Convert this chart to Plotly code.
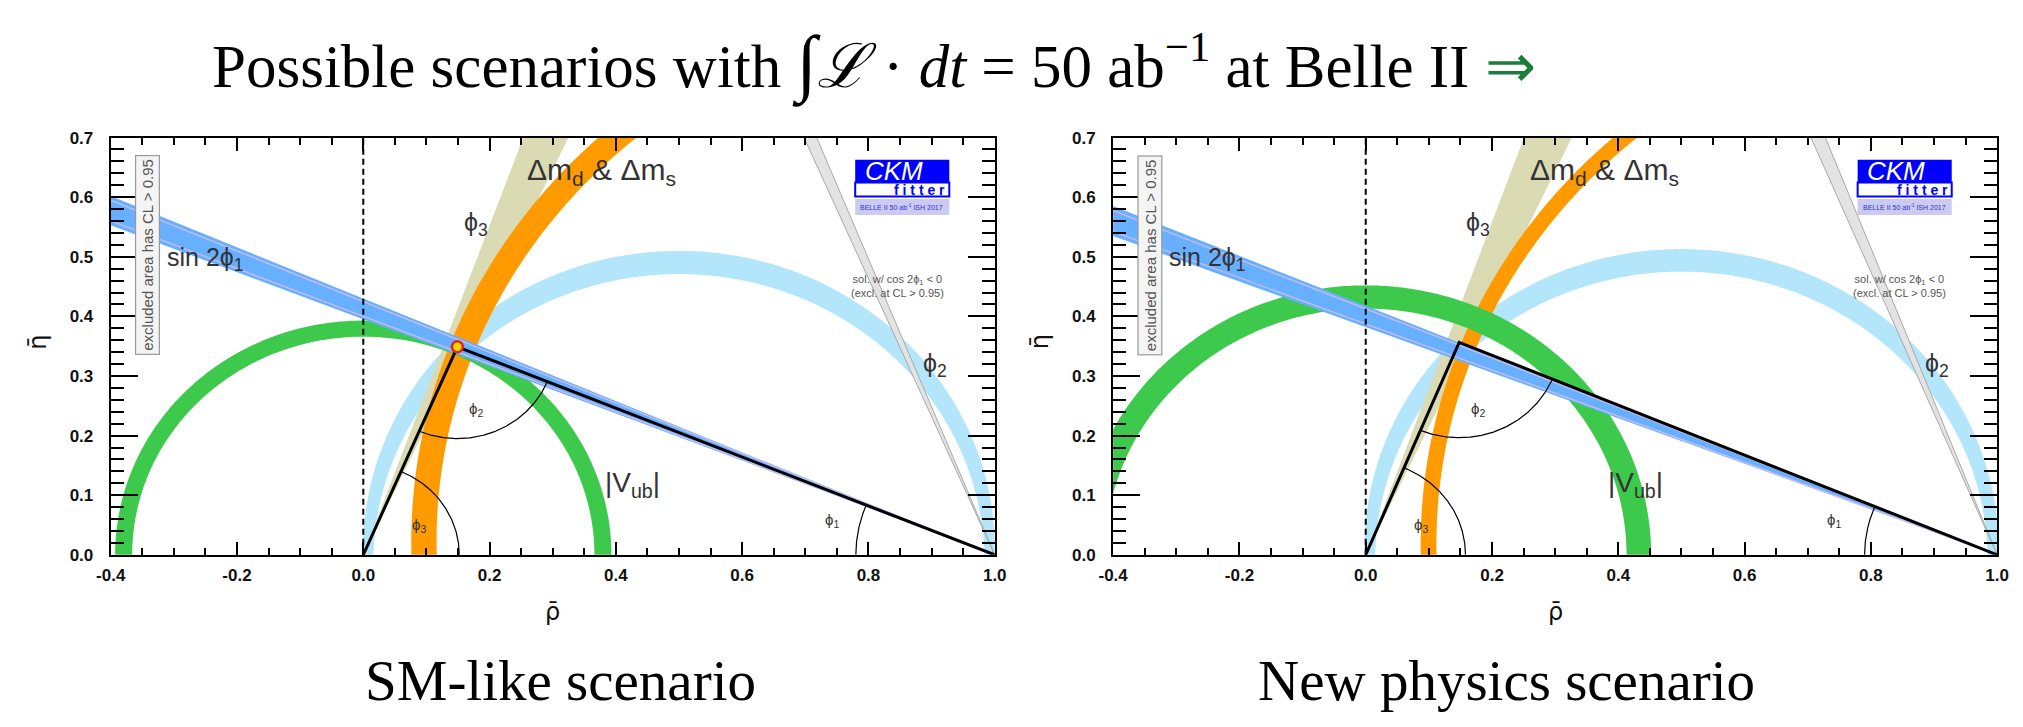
import numpy as np
import plotly.graph_objects as go

# ---------------- data ----------------
x_range = [-0.4, 1.0]
y_range = [0.0, 0.7]
x_tickvals = [-0.4, -0.2, 0.0, 0.2, 0.4, 0.6, 0.8, 1.0]
x_ticktext = ["-0.4", "-0.2", "0.0", "0.2", "0.4", "0.6", "0.8", "1.0"]
x_minorvals = [-0.35, -0.3, -0.25, -0.15, -0.1, -0.05, 0.05, 0.1, 0.15, 0.25, 0.3, 0.35,
               0.45, 0.5, 0.55, 0.65, 0.7, 0.75, 0.85, 0.9, 0.95]
y_tickvals = [0.0, 0.1, 0.2, 0.3, 0.4, 0.5, 0.6, 0.7]
y_ticktext = ["0.0", "0.1", "0.2", "0.3", "0.4", "0.5", "0.6", "0.7"]
y_minorvals = [0.02, 0.04, 0.06, 0.08, 0.12, 0.14, 0.16, 0.18, 0.22, 0.24, 0.26, 0.28,
               0.32, 0.34, 0.36, 0.38, 0.42, 0.44, 0.46, 0.48, 0.52, 0.54, 0.56, 0.58,
               0.62, 0.64, 0.66, 0.68]

scenarios = ["SM-like scenario", "New physics scenario"]
# |Vub| ring centred at the origin (inner / outer radius)
vub_r_in = [0.366, 0.413]
vub_r_out = [0.393, 0.452]
# sin 2phi1 wedge from (1,0): slopes of lower / upper edges
s2p1_lo = [0.395, 0.382]
s2p1_hi = [0.430, 0.418]
# dm_d & dm_s ring centred near (1,0)
dm_cy = [0.022, 0.019]
dm_r_in = [0.884, 0.888]
dm_r_out = [0.924, 0.913]
# phi3 wedge from the origin (degrees)
phi3_lo = [65.1, 65.0]
phi3_hi = [70.1, 70.3]
# phi2 band: two circular edges centred at (0.5, c)
phi2_out_c = [0.0098, 0.0110]
phi2_out_r = [0.5001, 0.5020]
phi2_in_c = [-0.013, -0.010]
phi2_in_r = [0.484, 0.485]
# grey phi2 (cos 2phi1 < 0) band, rho at eta = 0.7, converging at (1,0)
grey_top_lo = [0.698, 0.705]
grey_top_hi = [0.718, 0.728]
# unitarity triangle apex and angle arcs
apex_rho = [0.149, 0.148]
apex_eta = [0.349, 0.3565]
arc_phi3_r = [0.152, 0.158]
arc_phi1_r = [0.220, 0.210]
arc_phi2_r = [0.154, 0.160]

# ---------------- styling ----------------
C_GREEN = "#3DC94B"
C_LBLUE = "#B3E6FB"
C_BLUE = "#66B0FF"
C_LAV = "#C9BBEF"
C_ORANGE = "#FF9A00"
C_BEIGE = "#DADBB3"
C_GREY = "#E3E3E3"
C_GREYL = "#A8A8A8"
TXT = "#333333"

W, H = 2023, 727
x_dom = [[97 / W, 993 / W], [1113 / W, 2009 / W]]
y_dom = [(H - 560.5) / H, (H - 132) / H]

fig = go.Figure()


def add(tr, i):
    tr.update(xaxis="x" if i == 0 else "x2", yaxis="y" if i == 0 else "y2",
              hoverinfo="skip", showlegend=False)
    fig.add_trace(tr)


def arc(cx, cy, r, t0, t1, n=300):
    t = np.linspace(t0, t1, n)
    return cx + r * np.cos(t), cy + r * np.sin(t)


for i in range(2):
    # phi2 light-blue band
    xo, yo = arc(0.5, phi2_out_c[i], phi2_out_r[i], -0.2, np.pi + 0.2)
    xi, yi = arc(0.5, phi2_in_c[i], phi2_in_r[i], np.pi + 0.2, -0.2)
    add(go.Scatter(x=np.r_[xo, xi], y=np.r_[yo, yi], fill="toself", mode="none",
                   fillcolor=C_LBLUE), i)
    # grey band
    L = 0.8
    gx = [1.0, 1.0 - (1.0 - grey_top_lo[i]) * L / 0.7, 1.0 - (1.0 - grey_top_hi[i]) * L / 0.7, 1.0]
    gy = [0.0, L, L, 0.0]
    add(go.Scatter(x=gx, y=gy, fill="toself", mode="lines", fillcolor=C_GREY,
                   line=dict(color=C_GREYL, width=1)), i)
    # phi3 beige wedge
    a1, a2 = np.radians(phi3_lo[i]), np.radians(phi3_hi[i])
    add(go.Scatter(x=[0, np.cos(a1), np.cos(a2), 0], y=[0, np.sin(a1), np.sin(a2), 0],
                   fill="toself", mode="none", fillcolor=C_BEIGE), i)
    # dm ring
    xo, yo = arc(1.0, dm_cy[i], dm_r_out[i], np.pi / 2, np.pi + 0.15)
    xi, yi = arc(1.0, dm_cy[i], dm_r_in[i], np.pi + 0.15, np.pi / 2)
    add(go.Scatter(x=np.r_[xo, xi], y=np.r_[yo, yi], fill="toself", mode="none",
                   fillcolor=C_ORANGE), i)
    # |Vub| ring
    xo, yo = arc(0.0, 0.0, vub_r_out[i], -0.1, np.pi + 0.1)
    xi, yi = arc(0.0, 0.0, vub_r_in[i], np.pi + 0.1, -0.1)
    add(go.Scatter(x=np.r_[xo, xi], y=np.r_[yo, yi], fill="toself", mode="none",
                   fillcolor=C_GREEN), i)
    # sin 2phi1 wedge
    xe = -0.6
    add(go.Scatter(x=[1.0, xe, xe, 1.0],
                   y=[0.0, (1 - xe) * s2p1_lo[i], (1 - xe) * s2p1_hi[i], 0.0],
                   fill="toself", mode="none", fillcolor=C_BLUE), i)
    for f in (0.15, 0.85):
        s = s2p1_lo[i] + f * (s2p1_hi[i] - s2p1_lo[i])
        add(go.Scatter(x=[1.0, xe], y=[0.0, (1 - xe) * s], mode="lines",
                       line=dict(color=C_LAV, width=1.4)), i)
    # dashed rho = 0 line
    add(go.Scatter(x=[0, 0], y=[0, 0.7], mode="lines",
                   line=dict(color="black", width=2, dash="6px,4px")), i)
    # angle arcs
    ang_top = np.arctan2(apex_eta[i], apex_rho[i])
    ax_, ay_ = arc(0, 0, arc_phi3_r[i], 0, ang_top)
    add(go.Scatter(x=ax_, y=ay_, mode="lines", line=dict(color="black", width=1.2)), i)
    ang1 = np.arctan2(apex_eta[i], apex_rho[i] - 1.0)
    ax_, ay_ = arc(1, 0, arc_phi1_r[i], np.pi, ang1)
    add(go.Scatter(x=ax_, y=ay_, mode="lines", line=dict(color="black", width=1.2)), i)
    b1 = np.arctan2(-apex_eta[i], -apex_rho[i])
    b2 = np.arctan2(-apex_eta[i], 1 - apex_rho[i])
    ax_, ay_ = arc(apex_rho[i], apex_eta[i], arc_phi2_r[i], b1, b2)
    add(go.Scatter(x=ax_, y=ay_, mode="lines", line=dict(color="black", width=1.2)), i)
    # unitarity triangle
    add(go.Scatter(x=[0, apex_rho[i], 1.0], y=[0, apex_eta[i], 0], mode="lines",
                   line=dict(color="black", width=3)), i)
    if i == 0:
        add(go.Scatter(x=[apex_rho[i]], y=[apex_eta[i]], mode="markers",
                       marker=dict(size=11, color="#FFD400", line=dict(color="#E8231E", width=2.5))), i)

# ---------------- axes ----------------
for i in range(2):
    sx = "" if i == 0 else "2"
    fig.layout["xaxis" + sx] = dict(
        domain=x_dom[i], range=x_range, anchor="y" + sx, showgrid=False, zeroline=False,
        showline=True, linecolor="black", linewidth=2, mirror="ticks",
        ticks="inside", ticklen=13, tickwidth=2, tickcolor="black",
        tickmode="array", tickvals=x_tickvals, ticktext=x_ticktext,
        tickfont=dict(family="Liberation Sans", size=17, color="#111", weight="bold"),
        ticklabelstandoff=4,
        minor=dict(tickmode="array", tickvals=x_minorvals, ticks="inside", ticklen=7,
                   tickwidth=1.5, tickcolor="black", showgrid=False))
    fig.layout["yaxis" + sx] = dict(
        domain=y_dom, range=y_range, anchor="x" + sx, showgrid=False, zeroline=False,
        showline=True, linecolor="black", linewidth=2, mirror="ticks",
        ticks="inside", ticklen=27, tickwidth=2, tickcolor="black",
        tickmode="array", tickvals=y_tickvals, ticktext=y_ticktext,
        tickfont=dict(family="Liberation Sans", size=17, color="#111", weight="bold"),
        ticklabelstandoff=12,
        minor=dict(tickmode="array", tickvals=y_minorvals, ticks="inside", ticklen=13,
                   tickwidth=1.5, tickcolor="black", showgrid=False))

# ---------------- annotations ----------------
ann = []
shapes = []
SANS = "Liberation Sans"
PHI = "ϕ"
for i in range(2):
    xr = "x" if i == 0 else "x2"
    yr = "y" if i == 0 else "y2"

    def T(x, y, text, size, color=TXT, **kw):
        d = dict(x=x, y=y, xref=xr, yref=yr, text=text, showarrow=False,
                 xanchor="center", yanchor="middle",
                 font=dict(family=SANS, size=size, color=color))
        d.update(kw)
        ann.append(d)

    T(0.378, 0.643, "Δm<sub>d</sub> & Δm<sub>s</sub>", 30)
    T(0.178, 0.555, PHI + "<sub>3</sub>", 25)
    T(-0.25, 0.497, "sin 2" + PHI + "<sub>1</sub>", 25)
    T(0.905, 0.318, PHI + "<sub>2</sub>", 25)
    T(0.178, 0.243, PHI + "<sub>2</sub>", 15)
    T(0.088, 0.049, PHI + "<sub>3</sub>", 15)
    T(0.742, 0.057, PHI + "<sub>1</sub>", 15)
    T(0.427, 0.118, "|V<sub>ub</sub>|", 28)
    T(0.846, 0.451, "sol. w/ cos 2" + PHI + "<sub>1</sub> &lt; 0<br>(excl. at CL &gt; 0.95)", 11, color="#555")
    T(-0.341, 0.503, "excluded area has CL &gt; 0.95", 15, color="#555", textangle=-90,
      bordercolor="#999", borderwidth=1.2, bgcolor="#F4F4F4", borderpad=3)
    # CKMfitter logo
    shapes.append(dict(type="rect", xref=xr, yref=yr, x0=0.779, x1=0.928, y0=0.6245, y1=0.6626,
                       fillcolor="#0000FF", line=dict(width=0)))
    shapes.append(dict(type="rect", xref=xr, yref=yr, x0=0.779, x1=0.928, y0=0.601, y1=0.6245,
                       fillcolor="white", line=dict(color="#0000FF", width=2)))
    shapes.append(dict(type="rect", xref=xr, yref=yr, x0=0.779, x1=0.928, y0=0.570, y1=0.597,
                       fillcolor="#CACAF2", line=dict(width=0)))
    T(0.840, 0.644, "<i>CKM</i>", 26, color="white")
    T(0.925, 0.6128, "<b>f i t t e r</b>", 14, color="#0000FF", xanchor="right")
    T(0.853, 0.5835, "BELLE II 50 ab<sup>-1</sup> ISH 2017", 7, color="#3030E0")

# axis titles
for i in range(2):
    off = 0 if i == 0 else 1016
    ann.append(dict(x=(545 + off) / W, y=1 - 619 / H, xref="paper", yref="paper",
                    xanchor="center", yanchor="middle",
                    text="ρ̄", showarrow=False,
                    font=dict(family="DejaVu Sans", size=24, color="#111")))
    ann.append(dict(x=(23 + off) / W, y=1 - 342 / H, xref="paper", yref="paper",
                    xanchor="center", yanchor="middle",
                    text="η̄", showarrow=False, textangle=-90,
                    font=dict(family="DejaVu Sans", size=24, color="#111")))

SERIF = "Liberation Serif"
ann.append(dict(x=871 / W, y=1 - 56 / H, xref="paper", yref="paper", showarrow=False,
                xanchor="center", yanchor="middle",
                text="Possible scenarios with <span style='font-size:74px'>∫</span><i>ℒ</i> · <i>dt</i> = 50 ab<sup>−1</sup> at Belle II <span style='color:#1B7F3B'>⇒</span>",
                font=dict(family=SERIF, size=61, color="black")))
ann.append(dict(x=553 / W, y=1 - 690 / H, xref="paper", yref="paper", showarrow=False,
                xanchor="center", yanchor="middle",
                text=scenarios[0], font=dict(family=SERIF, size=57, color="black")))
ann.append(dict(x=1512 / W, y=1 - 690 / H, xref="paper", yref="paper", showarrow=False,
                xanchor="center", yanchor="middle",
                text=scenarios[1], font=dict(family=SERIF, size=57, color="black")))

fig.update_layout(width=W, height=H, margin=dict(l=0, r=0, t=0, b=0),
                  paper_bgcolor="white", plot_bgcolor="white",
                  annotations=ann, shapes=shapes, showlegend=False)

fig.write_html("out.html")
